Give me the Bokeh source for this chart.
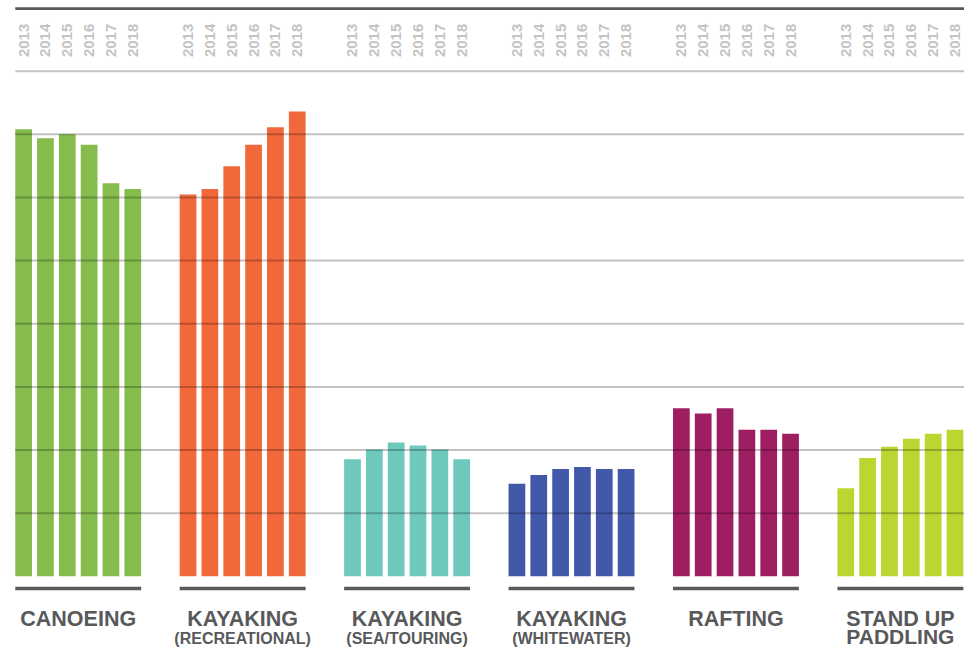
import numpy as np
from bokeh.plotting import figure
from bokeh.models import ColumnDataSource, Range1d
from bokeh.core.properties import value
from bokeh.embed import file_html
from bokeh.resources import INLINE

# ---------------- data (participants, millions) ----------------
years = ["2013", "2014", "2015", "2016", "2017", "2018"]
activities = ["CANOEING", "KAYAKING", "KAYAKING", "KAYAKING", "RAFTING", "STAND UP"]
subtitles = ["", "(RECREATIONAL)", "(SEA/TOURING)", "(WHITEWATER)", "", "PADDLING"]

canoeing = [10.62, 10.41, 10.50, 10.25, 9.34, 9.20]
kayaking_recreational = [9.07, 9.20, 9.74, 10.25, 10.67, 11.04]
kayaking_sea_touring = [2.78, 3.01, 3.18, 3.11, 3.01, 2.78]
kayaking_whitewater = [2.20, 2.41, 2.55, 2.60, 2.55, 2.55]
rafting = [3.99, 3.87, 3.99, 3.48, 3.48, 3.39]
stand_up_paddling = [2.09, 2.81, 3.08, 3.27, 3.39, 3.48]

series = [canoeing, kayaking_recreational, kayaking_sea_touring,
          kayaking_whitewater, rafting, stand_up_paddling]
colors = ["#86bc4e", "#f1683a", "#6ec8bb", "#4259a9", "#9e1e62", "#bcd631"]
grid_values = [1.5, 3.0, 4.5, 6.0, 7.5, 9.0, 10.5, 12.0]

# ---------------- layout (design space 980 x 666, drawn at 964 x 650) ----------------
W, H = 964, 650
REF_W, REF_H = 980, 666
PX_X = 22.2          # design pixels per bar slot
PX_Y = 43.13         # design pixels per million
BASE = 590           # design y of the zero line
GROUP_PITCH = 7.53   # in bar slots
BAR_W = 17 / PX_X
x_start = -23.5 / PX_X
x_end = x_start + REF_W / PX_X
y_start = -(REF_H - BASE) / PX_Y
y_end = BASE / PX_Y


def ypos(design_y):
    return (BASE - design_y) / PX_Y


xs, tops, cols, labs = [], [], [], []
for g, vals in enumerate(series):
    for j, v in enumerate(vals):
        xs.append(g * GROUP_PITCH + j)
        tops.append(v)
        cols.append(colors[g])
        labs.append(years[j])
src = ColumnDataSource(dict(x=xs, top=tops, color=cols, year=labs))

p = figure(width=W, height=H, x_range=Range1d(x_start, x_end),
           y_range=Range1d(y_start, y_end), toolbar_location=None,
           output_backend="svg", min_border=0)
p.outline_line_color = None
p.axis.visible = False
p.grid.visible = False
p.background_fill_color = "white"
p.border_fill_color = "white"

p.vbar(x="x", top="top", bottom=0, width=BAR_W, fill_color="color",
       line_color=None, source=src)

# gridlines above bars
n = len(grid_values)
p.segment(x0=[-BAR_W / 2] * n, x1=[x_end] * n, y0=grid_values, y1=grid_values,
          line_color="#000000", line_alpha=0.24, line_width=2)

# top dark rule
top_y = ypos(8.3)
p.segment(x0=[-BAR_W / 2], x1=[x_end], y0=[top_y], y1=[top_y],
          line_color="#58595b", line_width=2.8)

# year labels (rotated)
p.text(x="x", y=ypos(58), text="year", source=src, angle=np.pi / 2,
       text_align="left", text_baseline="middle",
       text_font=value("Liberation Sans"), text_font_style="bold",
       text_font_size="15px", text_color="#c4c4c4")

# group underlines and labels
ng = len(series)
centers = [g * GROUP_PITCH + 2.5 for g in range(ng)]
x0s = [g * GROUP_PITCH - BAR_W / 2 for g in range(ng)]
x1s = [g * GROUP_PITCH + 5 + BAR_W / 2 for g in range(ng)]
uy = ypos(602.5)
p.segment(x0=x0s, x1=x1s, y0=[uy] * ng, y1=[uy] * ng,
          line_color="#58595b", line_width=3.5)

p.text(x=centers, y=[ypos(634.1)] * ng, text=activities,
       text_align="center", text_baseline="alphabetic",
       text_font=value("Liberation Sans"), text_font_style="bold",
       text_font_size="21.5px", text_color="#58595b")

sub_sizes = ["21px" if s == "PADDLING" else "16px" for s in subtitles]
sub_y = [ypos(651.5) if s == "PADDLING" else ypos(653.5) for s in subtitles]
sub_src = ColumnDataSource(dict(x=centers, y=sub_y, text=subtitles, size=sub_sizes))
p.text(x="x", y="y", text="text", source=sub_src,
       text_align="center", text_baseline="alphabetic",
       text_font=value("Liberation Sans"), text_font_style="bold",
       text_font_size="size", text_color="#58595b")

open("out.html", "w").write(file_html(p, INLINE))
